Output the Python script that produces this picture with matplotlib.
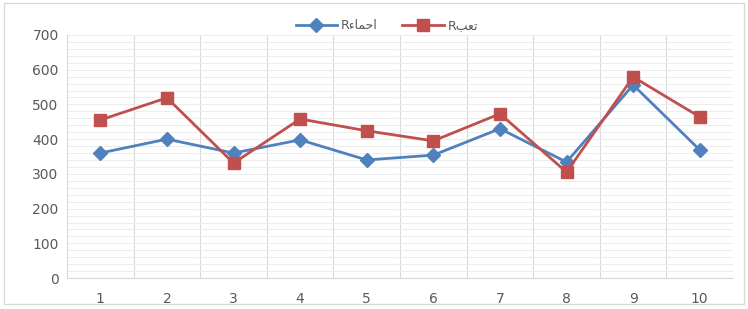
import matplotlib.pyplot as plt
from matplotlib.patches import Rectangle

# Data
categories = [1, 2, 3, 4, 5, 6, 7, 8, 9, 10]
tick_labels = ["1", "2", "3", "4", "5", "6", "7", "8", "9", "10"]
warmup = [360, 400, 360, 398, 340, 354, 430, 334, 556, 369]
fatigue = [455, 519, 331, 458, 424, 395, 473, 305, 579, 464]

# legend labels (Arabic written in visual order with presentation forms)
label_warmup = "R\uFE80\uFE8E\uFEE4\uFEA3\u0627"   # احماء
label_fatigue = "R\uFE90\uFECC\uFE97"            # تعب

plt.rcParams["font.family"] = ["DejaVu Sans"]

fig = plt.figure(figsize=(7.48, 3.09), dpi=100)
ax = fig.add_axes([0.0896, 0.10, 0.8904, 0.787])

ax.plot(categories, warmup, color="#4F81BD", linewidth=2.0, marker="D",
        markersize=7, label=label_warmup, zorder=3)
ax.plot(categories, fatigue, color="#C0504D", linewidth=2.0, marker="s",
        markersize=9, label=label_fatigue, zorder=3)

ax.set_xlim(0.5, 10.5)
ax.set_ylim(0, 700)
ax.set_yticks(range(0, 701, 100))
ax.set_yticks(range(0, 701, 20), minor=True)
ax.set_xticks(categories)
ax.set_xticklabels(tick_labels)
ax.set_xticks([c + 0.5 for c in categories[:-1]], minor=True)

ax.grid(which="both", axis="y", color="#EDEDED", linewidth=0.8)
ax.grid(which="minor", axis="x", color="#D9D9D9", linewidth=0.8)
ax.set_axisbelow(True)

for side in ["top", "right"]:
    ax.spines[side].set_visible(False)
for side in ["left", "bottom"]:
    ax.spines[side].set_color("#D9D9D9")

ax.tick_params(axis="both", which="both", length=0, colors="#595959", labelsize=10)
ax.tick_params(axis="x", pad=10)
ax.tick_params(axis="y", pad=6)

ax.legend(loc="upper center", bbox_to_anchor=(0.48, 1.11), ncol=2, frameon=False,
          fontsize=9, labelcolor="#595959", handlelength=3.3, columnspacing=2.0,
          handletextpad=0.3)

fig.patches.append(Rectangle((0.006, 0.015), 0.988, 0.975, transform=fig.transFigure,
                             fill=False, edgecolor="#D9D9D9", linewidth=1))

fig.savefig("out.png", dpi=100)
